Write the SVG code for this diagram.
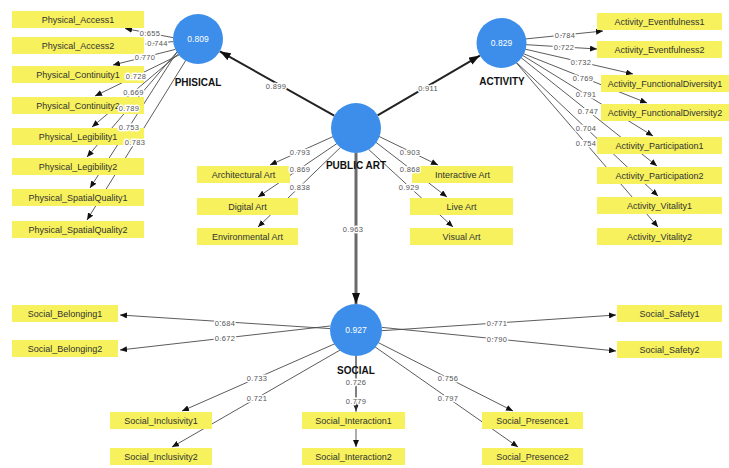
<svg xmlns="http://www.w3.org/2000/svg" width="729" height="468" viewBox="0 0 729 468">
  <defs>
    <marker id="arr" markerUnits="userSpaceOnUse" markerWidth="8" markerHeight="6" refX="7" refY="3" orient="auto">
      <path d="M0,0 L7,3 L0,6 z" fill="#111"/>
    </marker>
    <marker id="arrBig" markerUnits="userSpaceOnUse" markerWidth="12" markerHeight="8" refX="11" refY="4" orient="auto">
      <path d="M0,0 L11,4 L0,8 z" fill="#111"/>
    </marker>
    <style>
      .ind{stroke:#4a4a4a;stroke-width:0.9;fill:none;marker-end:url(#arr)}
      .path{stroke:#222;stroke-width:2;fill:none;marker-end:url(#arrBig)}
      .path.v{stroke:#6a6a6a;stroke-width:3}
      .lbl{font-family:"Liberation Sans",Arial,sans-serif;font-size:7.5px;fill:#555;text-anchor:middle;letter-spacing:0.3px;paint-order:stroke;stroke:#fff;stroke-width:3px;stroke-linejoin:round}
      .box rect{fill:#f6f15c}
      .box text{font-family:"Liberation Sans",Arial,sans-serif;font-size:9px;fill:#333;text-anchor:middle}
      .lv circle{fill:#3c8eea}
      .lv text{font-family:"Liberation Sans",Arial,sans-serif;text-anchor:middle}
      .lv .val{fill:#fff;font-size:8.5px}
      .lv .name{fill:#111;font-size:10px;font-weight:bold}
    </style>
  </defs>
  <rect width="729" height="468" fill="#fff"/>

  <!-- connectors -->
  <g id="connectors">
    <!-- structural paths -->
    <line class="path" x1="334.2" y1="115.7" x2="219.8" y2="51.3"/>
    <line class="path" x1="377.6" y1="115.4" x2="479.9" y2="55.6"/>
    <line class="path v" x1="356" y1="153" x2="356" y2="304"/>

    <!-- PHISICAL indicators -->
    <line class="ind" x1="173.5" y1="37.7" x2="125" y2="28.5"/>
    <line class="ind" x1="173.5" y1="41.6" x2="145.5" y2="44"/>
    <line class="ind" x1="175.4" y1="49.4" x2="113" y2="65"/>
    <line class="ind" x1="179" y1="55" x2="95" y2="96"/>
    <line class="ind" x1="179" y1="53.5" x2="92" y2="127"/>
    <line class="ind" x1="177.3" y1="51.6" x2="87" y2="157"/>
    <line class="ind" x1="177" y1="52" x2="90" y2="188"/>
    <line class="ind" x1="186" y1="60" x2="87" y2="220"/>

    <!-- ACTIVITY indicators -->
    <line class="ind" x1="525" y1="39" x2="603" y2="31"/>
    <line class="ind" x1="525" y1="44.6" x2="597" y2="49"/>
    <line class="ind" x1="524.5" y1="49" x2="633" y2="74"/>
    <line class="ind" x1="523" y1="53.5" x2="647" y2="103"/>
    <line class="ind" x1="522" y1="55" x2="653" y2="136"/>
    <line class="ind" x1="521" y1="57.6" x2="657" y2="166"/>
    <line class="ind" x1="516.5" y1="62.5" x2="658" y2="196"/>
    <line class="ind" x1="516" y1="62.5" x2="658" y2="227"/>

    <!-- PUBLIC ART indicators -->
    <line class="ind" x1="333" y1="136.6" x2="270" y2="165"/>
    <line class="ind" x1="337" y1="143.5" x2="258" y2="197"/>
    <line class="ind" x1="340.7" y1="147.2" x2="258" y2="227"/>
    <line class="ind" x1="378.5" y1="136.2" x2="438" y2="165"/>
    <line class="ind" x1="375.5" y1="142" x2="447" y2="197"/>
    <line class="ind" x1="368.5" y1="149.3" x2="453" y2="227"/>

    <!-- SOCIAL indicators -->
    <line class="ind" x1="330" y1="328.6" x2="120" y2="315"/>
    <line class="ind" x1="330.2" y1="326" x2="120" y2="350"/>
    <line class="ind" x1="382" y1="330.7" x2="616" y2="315"/>
    <line class="ind" x1="382" y1="327.4" x2="616" y2="351"/>
    <line class="ind" x1="335" y1="343.7" x2="182" y2="411"/>
    <line class="ind" x1="341" y1="349.5" x2="172" y2="447"/>
    <line class="ind" x1="356" y1="356" x2="356" y2="411"/>
    <line class="ind" x1="356" y1="356" x2="356" y2="447"/>
    <line class="ind" x1="377.5" y1="342.2" x2="513" y2="411"/>
    <line class="ind" x1="374.5" y1="346.5" x2="518" y2="447"/>
  </g>

  <!-- latent variables -->
  <g id="physical" class="lv">
    <circle cx="198" cy="39" r="25"/>
    <text class="val" x="198" y="42">0.809</text>
    <text class="name" x="198" y="86">PHISICAL</text>
  </g>
  <g id="activity" class="lv">
    <circle cx="501.5" cy="43" r="25"/>
    <text class="val" x="501.5" y="46">0.829</text>
    <text class="name" x="502" y="85">ACTIVITY</text>
  </g>
  <g id="public-art" class="lv">
    <circle cx="356" cy="128" r="25"/>
    <text class="name" x="356" y="169">PUBLIC ART</text>
  </g>
  <g id="social" class="lv">
    <circle cx="356" cy="330" r="26"/>
    <text class="val" x="356" y="333">0.927</text>
    <text class="name" x="356" y="374">SOCIAL</text>
  </g>

  <!-- PHISICAL indicators -->
  <g id="physical-access1" class="box"><rect x="12" y="11" width="132" height="17"/><text x="78" y="22.5">Physical_Access1</text></g>
  <g id="physical-access2" class="box"><rect x="12" y="37" width="132" height="17"/><text x="78" y="48.5">Physical_Access2</text></g>
  <g id="physical-continuity1" class="box"><rect x="12" y="66" width="132" height="17"/><text x="78" y="77.5">Physical_Continuity1</text></g>
  <g id="physical-continuity2" class="box"><rect x="12" y="97" width="132" height="17"/><text x="78" y="108.5">Physical_Continuity2</text></g>
  <g id="physical-legibility1" class="box"><rect x="12" y="128" width="132" height="17"/><text x="78" y="139.5">Physical_Legibility1</text></g>
  <g id="physical-legibility2" class="box"><rect x="12" y="158" width="132" height="17"/><text x="78" y="169.5">Physical_Legibility2</text></g>
  <g id="physical-spatial1" class="box"><rect x="12" y="189" width="132" height="17"/><text x="78" y="200.5">Physical_SpatialQuality1</text></g>
  <g id="physical-spatial2" class="box"><rect x="12" y="221" width="132" height="17"/><text x="78" y="232.5">Physical_SpatialQuality2</text></g>

  <!-- ACTIVITY indicators -->
  <g id="activity-eventfulness1" class="box"><rect x="597" y="13" width="125" height="17"/><text x="659.5" y="24.5">Activity_Eventfulness1</text></g>
  <g id="activity-eventfulness2" class="box"><rect x="597" y="41" width="125" height="17"/><text x="659.5" y="52.5">Activity_Eventfulness2</text></g>
  <g id="activity-diversity1" class="box"><rect x="601" y="75" width="128" height="17"/><text x="665" y="86.5">Activity_FunctionalDiversity1</text></g>
  <g id="activity-diversity2" class="box"><rect x="601" y="104" width="128" height="17"/><text x="665" y="115.5">Activity_FunctionalDiversity2</text></g>
  <g id="activity-participation1" class="box"><rect x="597" y="137" width="125" height="17"/><text x="659.5" y="148.5">Activity_Participation1</text></g>
  <g id="activity-participation2" class="box"><rect x="597" y="167" width="125" height="17"/><text x="659.5" y="178.5">Activity_Participation2</text></g>
  <g id="activity-vitality1" class="box"><rect x="597" y="197" width="125" height="17"/><text x="659.5" y="208.5">Activity_Vitality1</text></g>
  <g id="activity-vitality2" class="box"><rect x="597" y="228" width="125" height="17"/><text x="659.5" y="239.5">Activity_Vitality2</text></g>

  <!-- PUBLIC ART indicators -->
  <g id="architectural-art" class="box"><rect x="197" y="166" width="93" height="17"/><text x="243.5" y="177.5">Architectural Art</text></g>
  <g id="digital-art" class="box"><rect x="197" y="198" width="101" height="17"/><text x="247.5" y="209.5">Digital Art</text></g>
  <g id="environmental-art" class="box"><rect x="197" y="228" width="101" height="17"/><text x="247.5" y="239.5">Environmental Art</text></g>
  <g id="interactive-art" class="box"><rect x="412" y="166" width="101" height="17"/><text x="462.5" y="177.5">Interactive Art</text></g>
  <g id="live-art" class="box"><rect x="410" y="198" width="103" height="17"/><text x="461.5" y="209.5">Live Art</text></g>
  <g id="visual-art" class="box"><rect x="410" y="228" width="103" height="17"/><text x="461.5" y="239.5">Visual Art</text></g>

  <!-- SOCIAL indicators -->
  <g id="social-belonging1" class="box"><rect x="12" y="305" width="106" height="17"/><text x="65" y="316.5">Social_Belonging1</text></g>
  <g id="social-belonging2" class="box"><rect x="12" y="340" width="106" height="17"/><text x="65" y="351.5">Social_Belonging2</text></g>
  <g id="social-safety1" class="box"><rect x="617" y="305" width="105" height="17"/><text x="669.5" y="316.5">Social_Safety1</text></g>
  <g id="social-safety2" class="box"><rect x="617" y="341" width="105" height="17"/><text x="669.5" y="352.5">Social_Safety2</text></g>
  <g id="social-inclusivity1" class="box"><rect x="110" y="412" width="102" height="17"/><text x="161" y="423.5">Social_Inclusivity1</text></g>
  <g id="social-inclusivity2" class="box"><rect x="110" y="448" width="102" height="17"/><text x="161" y="459.5">Social_Inclusivity2</text></g>
  <g id="social-interaction1" class="box"><rect x="302" y="412" width="103" height="17"/><text x="353.5" y="423.5">Social_Interaction1</text></g>
  <g id="social-interaction2" class="box"><rect x="302" y="448" width="103" height="17"/><text x="353.5" y="459.5">Social_Interaction2</text></g>
  <g id="social-presence1" class="box"><rect x="482" y="412" width="101" height="17"/><text x="532.5" y="423.5">Social_Presence1</text></g>
  <g id="social-presence2" class="box"><rect x="482" y="448" width="101" height="17"/><text x="532.5" y="459.5">Social_Presence2</text></g>

  <!-- path coefficients and loadings, drawn above everything -->
  <g id="connector-labels">
    <text class="lbl" x="276" y="89">0.899</text>
    <text class="lbl" x="428" y="91">0.911</text>
    <text class="lbl" x="353" y="232">0.963</text>

    <text class="lbl" x="150" y="35.7">0.655</text>
    <text class="lbl" x="157.5" y="45.7">0.744</text>
    <text class="lbl" x="145" y="59.7">0.770</text>
    <text class="lbl" x="136" y="78.7">0.728</text>
    <text class="lbl" x="133.5" y="94.7">0.669</text>
    <text class="lbl" x="129" y="110.7">0.789</text>
    <text class="lbl" x="129" y="129.7">0.753</text>
    <text class="lbl" x="135" y="144.7">0.783</text>

    <text class="lbl" x="565" y="37.7">0.784</text>
    <text class="lbl" x="564" y="49.7">0.722</text>
    <text class="lbl" x="581" y="64.7">0.732</text>
    <text class="lbl" x="583" y="80.7">0.769</text>
    <text class="lbl" x="586" y="96.7">0.791</text>
    <text class="lbl" x="588" y="113.7">0.747</text>
    <text class="lbl" x="586" y="130.7">0.704</text>
    <text class="lbl" x="586" y="145.7">0.754</text>

    <text class="lbl" x="300" y="154.7">0.793</text>
    <text class="lbl" x="300" y="171.7">0.869</text>
    <text class="lbl" x="300" y="189.7">0.838</text>
    <text class="lbl" x="410" y="154.7">0.903</text>
    <text class="lbl" x="410" y="171.7">0.868</text>
    <text class="lbl" x="409" y="189.7">0.929</text>

    <text class="lbl" x="225" y="325.7">0.684</text>
    <text class="lbl" x="225" y="340.7">0.672</text>
    <text class="lbl" x="497" y="325.7">0.771</text>
    <text class="lbl" x="497" y="341.7">0.790</text>
    <text class="lbl" x="257" y="380.7">0.733</text>
    <text class="lbl" x="257" y="400.7">0.721</text>
    <text class="lbl" x="356" y="384.7">0.726</text>
    <text class="lbl" x="356" y="403.7">0.779</text>
    <text class="lbl" x="448" y="380.7">0.756</text>
    <text class="lbl" x="448" y="400.7">0.797</text>
  </g>
</svg>
